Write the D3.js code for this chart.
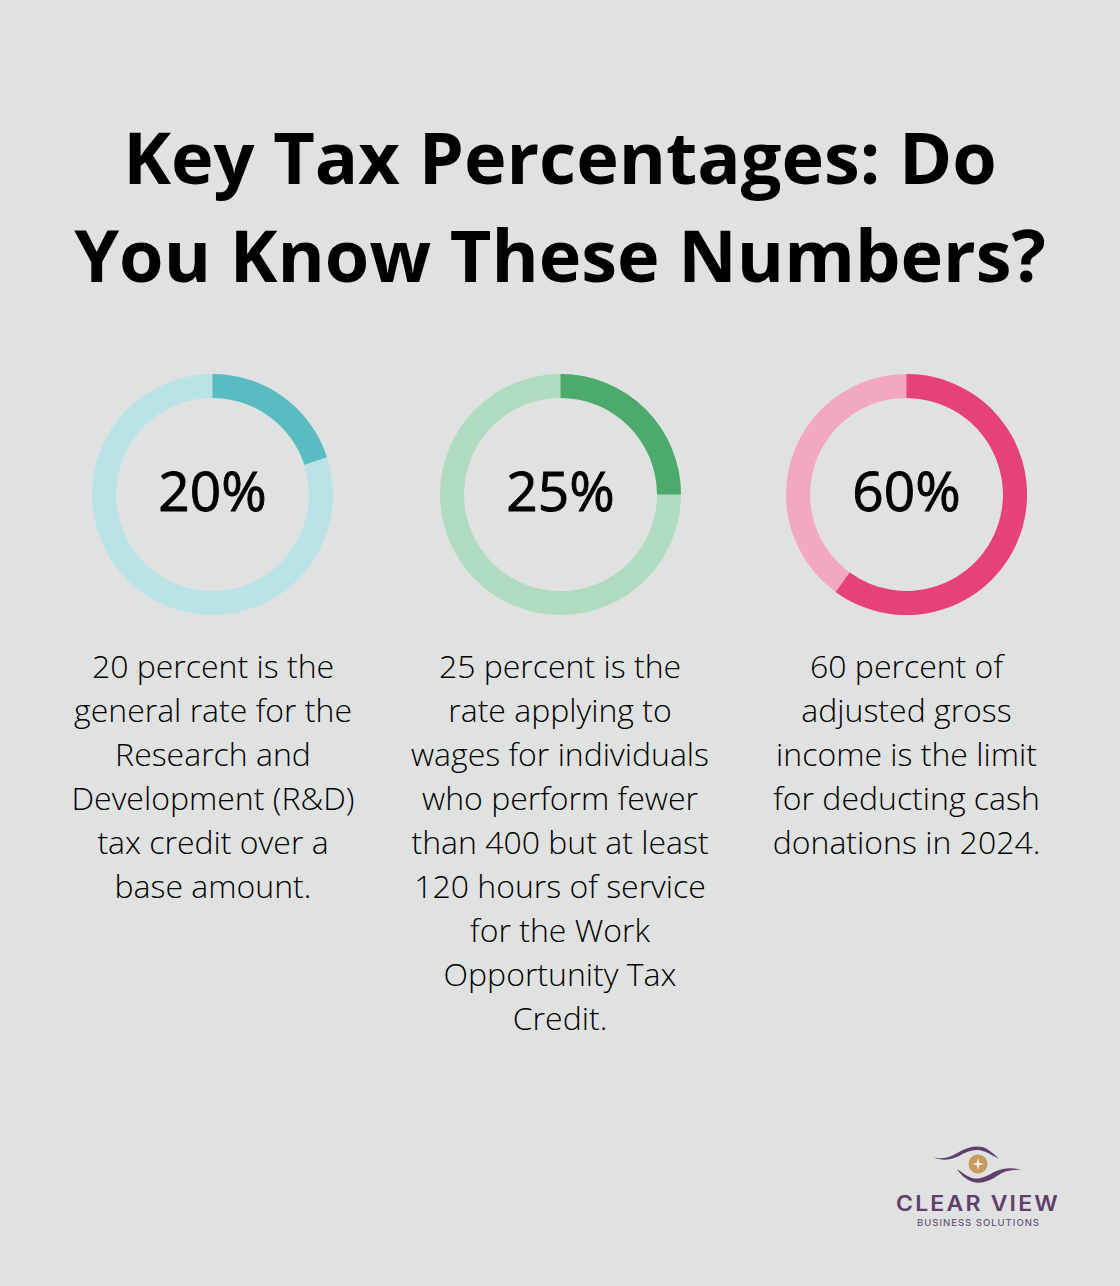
<!DOCTYPE html>
<html>
<head>
<meta charset="utf-8">
<script src="https://cdn.jsdelivr.net/npm/d3@7"></script>
<style>
  html, body { margin: 0; padding: 0; background: #e0e2e1; }
  text { font-family: "Open Sans", sans-serif; }
</style>
</head>
<body>
<svg id="chart" width="1120" height="1286" style="display:block"></svg>
<script>
// values and text
var titleLines = ["Key Tax Percentages: Do", "You Know These Numbers?"];
var percents = [20, 25, 60];
var trackColors = ["#bae3e5", "#b0dbc0", "#f3a8c1"];
var valueColors = ["#5abcc0", "#4caa6c", "#e64277"];
var captions = [
  ["20 percent is the", "general rate for the", "Research and", "Development (R&D)", "tax credit over a", "base amount."],
  ["25 percent is the", "rate applying to", "wages for individuals", "who perform fewer", "than 400 but at least", "120 hours of service", "for the Work", "Opportunity Tax", "Credit."],
  ["60 percent of", "adjusted gross", "income is the limit", "for deducting cash", "donations in 2024."]
];

var svg = d3.select("#chart");
svg.append("rect").attr("width", 1120).attr("height", 1286).attr("fill", "#e0e2e1");

// Title
svg.selectAll(".title").data(titleLines).enter().append("text")
  .attr("class", "title")
  .attr("x", 560)
  .attr("y", (d, i) => 184 + i * 98)
  .attr("text-anchor", "middle")
  .attr("font-size", 72)
  .attr("font-weight", 700)
  .attr("fill", "#000")
  .text(d => d);

// Donuts
var centerX = [212.5, 560.5, 906.5];
var textX = [213, 560, 906.5];
var angle = d3.scaleLinear().domain([0, 100]).range([0, 2 * Math.PI]);
var arc = d3.arc().innerRadius(96.5).outerRadius(120.5);

percents.forEach(function(p, i) {
  var g = svg.append("g").attr("transform", "translate(" + centerX[i] + ",494.5)");
  g.append("path")
    .attr("d", arc({startAngle: 0, endAngle: 2 * Math.PI}))
    .attr("fill", trackColors[i]);
  g.append("path")
    .attr("d", arc({startAngle: 0, endAngle: angle(p)}))
    .attr("fill", valueColors[i]);
  // regular weight with a thin stroke, the font has no medium
  g.append("text")
    .attr("y", 16.5)
    .attr("text-anchor", "middle")
    .attr("font-size", 55)
    .attr("font-weight", 400)
    .attr("fill", "#000")
    .attr("stroke", "#000")
    .attr("stroke-width", 0.9)
    .text(p + "%");

  // Caption under the donut
  svg.selectAll(".cap" + i).data(captions[i]).enter().append("text")
    .attr("class", "cap" + i)
    .attr("x", textX[i])
    .attr("y", (d, j) => 678 + j * 44)
    .attr("text-anchor", "middle")
    .attr("font-size", 32)
    .attr("font-weight", 300)
    .attr("fill", "#000")
    .text(d => d);
});

// Logo
var logo = svg.append("g");
logo.append("path")
  .attr("d", "M934 1157.5 C945 1160 952 1156 960 1151.5 C970 1146 980 1145 987 1149 C992 1152 996 1156 999 1159 C993 1156 988 1152 981 1150.5 C973 1149 966 1152 959 1156 C951 1160 942 1161 934 1157.5 Z")
  .attr("fill", "#5f4069");
logo.append("path")
  .attr("d", "M957 1169 C962 1172 966 1176 972 1178 C980 1180 987 1176 994 1172 C1002 1168 1012 1167 1022 1170 C1012 1169 1004 1171 997 1176 C990 1181 981 1184 973 1182 C966 1180 960 1174 957 1169 Z")
  .attr("fill", "#5f4069");
logo.append("circle").attr("cx", 978).attr("cy", 1164).attr("r", 9.5).attr("fill", "#c69a5c");
logo.append("path")
  .attr("d", "M978 1158 L979.3 1162.7 L984 1164 L979.3 1165.3 L978 1170 L976.7 1165.3 L972 1164 L976.7 1162.7 Z")
  .attr("fill", "#f6ecdc");
logo.append("text")
  .attr("x", 896).attr("y", 1210.5)
  .attr("textLength", 164)
  .attr("lengthAdjust", "spacingAndGlyphs")
  .attr("font-size", 21)
  .attr("font-weight", 600)
  .attr("letter-spacing", 2)
  .attr("fill", "#5f4069")
  .style("font-family", "Inter, sans-serif")
  .text("CLEAR VIEW");
logo.append("text")
  .attr("x", 917).attr("y", 1226)
  .attr("textLength", 122)
  .attr("lengthAdjust", "spacing")
  .attr("font-size", 9.5)
  .attr("font-weight", 500)
  .attr("fill", "#6e5679")
  .style("font-family", "Inter, sans-serif")
  .text("BUSINESS SOLUTIONS");
</script>
</body>
</html>
